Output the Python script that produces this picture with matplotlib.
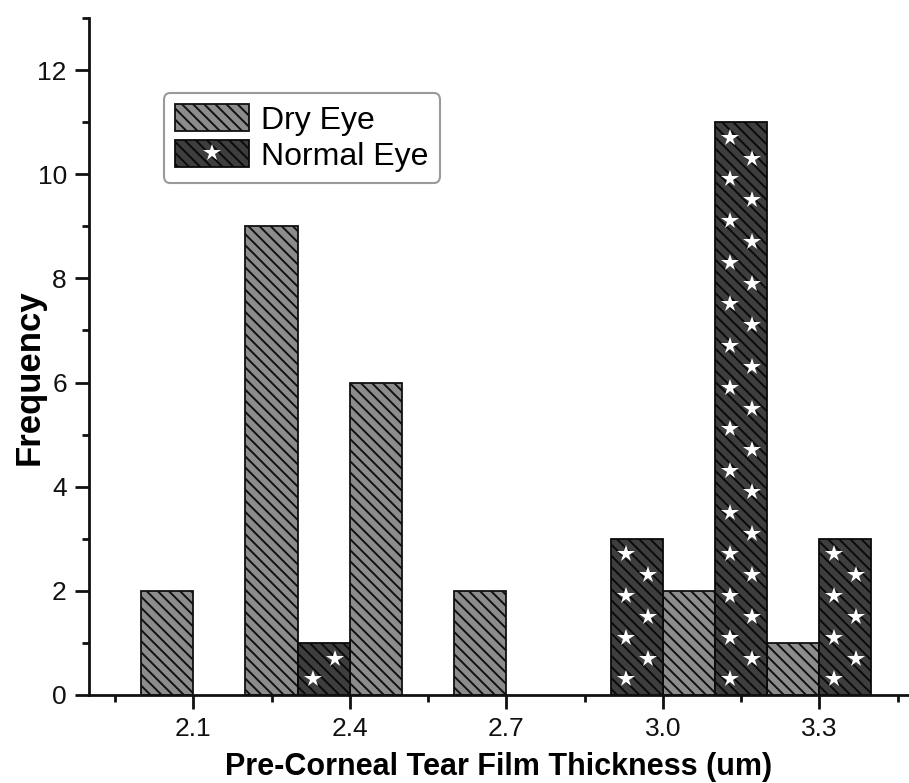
import numpy as np
import matplotlib
matplotlib.use('Agg')
import matplotlib.pyplot as plt
from matplotlib.lines import Line2D
from matplotlib.ticker import MultipleLocator, FixedLocator

plt.rcParams['font.family'] = ['Liberation Sans', 'DejaVu Sans']
plt.rcParams['hatch.linewidth'] = 1.4

# Histogram bins (bin centres, width 0.1) and counts
dry_x = [2.05, 2.25, 2.45, 2.65, 3.05, 3.25]
dry_counts = [2, 9, 6, 2, 2, 1]
normal_x = [2.35, 2.95, 3.15, 3.35]
normal_counts = [1, 3, 11, 3]
bin_width = 0.1

x_ticks = [2.1, 2.4, 2.7, 3.0, 3.3]
x_tick_labels = ['2.1', '2.4', '2.7', '3.0', '3.3']
y_ticks = [0, 2, 4, 6, 8, 10, 12]

fig = plt.figure(figsize=(9.09, 7.83), dpi=100)
ax = fig.add_axes([89 / 909, 88 / 783, 1 - 89 / 909, (695 - 18) / 783])

dry_style = dict(facecolor='#8c8c8c', edgecolor='#111111', hatch='\\\\\\', linewidth=1.3)
normal_style = dict(facecolor='#3e3e3e', edgecolor='#0a0a0a', hatch='\\\\\\', linewidth=1.3)

ax.bar(dry_x, dry_counts, width=bin_width, zorder=2, **dry_style)
ax.bar(normal_x, normal_counts, width=bin_width, zorder=2, **normal_style)

# white star pattern on the normal-eye bars
for xc, h in zip(normal_x, normal_counts):
    ys = np.arange(0.3, h - 0.15, 0.4)
    xs = [xc - 0.021 if i % 2 == 0 else xc + 0.021 for i in range(len(ys))]
    ax.plot(xs, ys, linestyle='none', marker='*', markersize=13,
            color='white', markeredgewidth=0, zorder=3)

ax.set_xlim(1.9, 3.472)
ax.set_ylim(0, 13)

ax.set_xticks(x_ticks)
ax.set_xticklabels(x_tick_labels)
ax.xaxis.set_minor_locator(FixedLocator([1.95, 2.25, 2.55, 2.85, 3.15, 3.45]))
ax.set_yticks(y_ticks)
ax.yaxis.set_minor_locator(MultipleLocator(1))

for s in ['top', 'right']:
    ax.spines[s].set_visible(False)
for s in ['left', 'bottom']:
    ax.spines[s].set_linewidth(2.0)
    ax.spines[s].set_color('#111111')

ax.tick_params(which='major', direction='out', length=10, width=2.0,
               labelsize=19, pad=6, colors='#111111')
ax.tick_params(which='minor', direction='out', length=5, width=2.0, colors='#111111')

ax.set_xlabel('Pre-Corneal Tear Film Thickness (um)', fontsize=22,
              fontweight='bold', labelpad=8)
ax.set_ylabel('Frequency', fontsize=25, fontweight='bold')
ax.yaxis.set_label_coords(-0.053, 0.47)

# legend with star overlay for the normal-eye patch
dry_handle = plt.Rectangle((0, 0), 1, 1, **dry_style)
normal_handle = plt.Rectangle((0, 0), 1, 1, **normal_style)
star_handle = Line2D([], [], linestyle='none', marker='*', markersize=13,
                     color='white', markeredgewidth=0)
leg = ax.legend([dry_handle, (normal_handle, star_handle)], ['Dry Eye', 'Normal Eye'],
                loc='upper left', bbox_to_anchor=(0.0915, 0.889), borderaxespad=0,
                fontsize=23, handlelength=2.3, handleheight=0.9,
                handletextpad=0.4, labelspacing=0.15, borderpad=0.35,
                fancybox=True, framealpha=1, edgecolor='#9a9a9a')
leg.get_frame().set_linewidth(1.5)

plt.savefig('out.png', dpi=100)
